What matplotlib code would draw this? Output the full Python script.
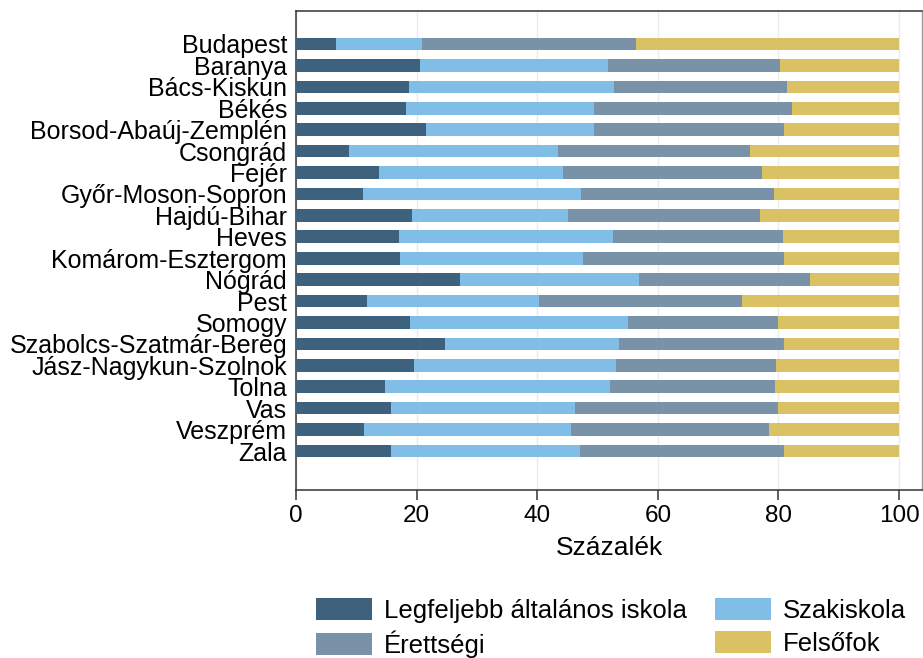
import matplotlib
matplotlib.use("Agg")
import matplotlib.pyplot as plt
import numpy as np

plt.rcParams['font.family'] = ['Liberation Sans', 'DejaVu Sans']

counties = ["Budapest", "Baranya", "Bács-Kiskun", "Békés", "Borsod-Abaúj-Zemplén",
            "Csongrád", "Fejér", "Győr-Moson-Sopron", "Hajdú-Bihar", "Heves",
            "Komárom-Esztergom", "Nógrád", "Pest", "Somogy", "Szabolcs-Szatmár-Bereg",
            "Jász-Nagykun-Szolnok", "Tolna", "Vas", "Veszprém", "Zala"]

legfeljebb = [6.6, 20.6, 18.8, 18.2, 21.5, 8.8, 13.7, 11.1, 19.2, 17.1,
              17.3, 27.2, 11.7, 18.9, 24.7, 19.6, 14.8, 15.8, 11.3, 15.8]
szakiskola = [14.3, 31.1, 34.0, 31.2, 27.9, 34.7, 30.5, 36.2, 25.9, 35.4,
              30.3, 29.7, 28.6, 36.2, 28.9, 33.5, 37.2, 30.5, 34.3, 31.3]
erettsegi = [35.5, 28.6, 28.6, 32.9, 31.5, 31.7, 33.0, 32.0, 31.8, 28.3,
             33.3, 28.3, 33.6, 24.9, 27.4, 26.5, 27.4, 33.7, 32.9, 33.9]
felsofok = [43.6, 19.7, 18.6, 17.7, 19.1, 24.8, 22.8, 20.7, 23.1, 19.2,
            19.1, 14.8, 26.1, 20.0, 19.0, 20.4, 20.6, 20.0, 21.5, 19.0]

series_names = ["Legfeljebb általános iskola", "Szakiskola", "Érettségi", "Felsőfok"]
colors = ["#3e627d", "#80bee8", "#7a92a8", "#dac264"]

fig = plt.figure(figsize=(9.23, 6.58), dpi=100)
ax = fig.add_axes([296/923, 1-490/658, (922-296)/923, (490-11)/658])

y = np.arange(len(counties))
left = np.zeros(len(counties))
handles = []
for vals, name, col in zip([legfeljebb, szakiskola, erettsegi, felsofok], series_names, colors):
    vals = np.array(vals)
    b = ax.barh(y, vals, left=left, height=0.59, color=col, label=name, zorder=3)
    handles.append(b)
    left = left + vals

ax.set_xlim(0, 103.8)
ax.set_ylim(20.82, -1.54)
ax.set_yticks(y)
ax.set_yticklabels(counties, fontsize=18)
ax.tick_params(axis='y', length=0, pad=6.5)
ax.set_xticks([0, 20, 40, 60, 80, 100])
ax.tick_params(axis='x', labelsize=17.5, length=7, width=1.1, color="#333333", pad=4)
ax.set_xlabel("Százalék", fontsize=19, labelpad=6)

ax.grid(axis='x', color="#ebebeb", linewidth=1.0, zorder=0)
for s in ['left', 'bottom', 'top']:
    ax.spines[s].set_color("#333333")
    ax.spines[s].set_linewidth(1.1)
ax.spines['right'].set_color("#999999")
ax.spines['right'].set_linewidth(1.0)

order = [handles[0], handles[2], handles[1], handles[3]]
labels = [series_names[0], series_names[2], series_names[1], series_names[3]]
leg = fig.legend(order, labels, ncol=2, loc='upper left',
                 bbox_to_anchor=(316/923, 1-598/658), frameon=False,
                 fontsize=18.5, handlelength=2.18, handleheight=0.95,
                 handletextpad=0.45, columnspacing=1.12, labelspacing=0.3,
                 borderaxespad=0, borderpad=0)

fig.savefig("out.png", dpi=100)
